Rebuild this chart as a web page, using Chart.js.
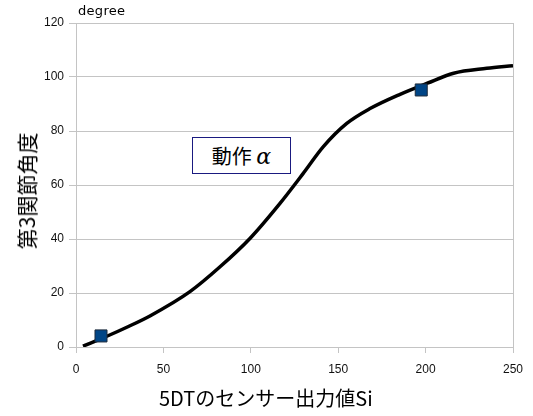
<!DOCTYPE html>
<html>
<head>
<meta charset="utf-8">
<script src="https://cdn.jsdelivr.net/npm/chart.js@4/dist/chart.umd.min.js"></script>
<style>
  html, body { margin: 0; padding: 0; background: #fff; }
  #wrap { position: relative; width: 533px; height: 416px; }
  canvas { position: absolute; left: 0; top: 0; }
  .lbl { position: absolute; white-space: nowrap; color: #000; }
  #degree { left: 78px; top: 3px; font: 13px "DejaVu Sans", sans-serif; letter-spacing: 0.3px; }
  #xtitle { left: 159px; top: 384px; font: 20px "Noto Sans CJK JP", sans-serif; line-height: 28px; }
  #ytitle { left: 26px; top: 191px; font: 21px "Noto Sans CJK JP", sans-serif; line-height: 28px;
            transform: translate(-50%, -50%) rotate(-90deg); }
  #box { left: 192px; top: 137px; width: 97px; height: 35px; border: 1.5px solid #1a1a80; background: #fff;
         font: 20px "Noto Sans CJK JP", sans-serif; line-height: 35px; text-align: center; }
  #box i { font-family: "DejaVu Serif", serif; font-size: 22px; }
</style>
</head>
<body>
<div id="wrap">
  <canvas id="c" width="533" height="416"></canvas>
  <div class="lbl" id="degree">degree</div>
  <div class="lbl" id="ytitle">第3関節角度</div>
  <div class="lbl" id="xtitle">5DTのセンサー出力値Si</div>
  <div class="lbl" id="box">動作 <i>α</i></div>
</div>
<script>
const curveX = [4, 17, 30, 42.3, 65.2, 82.4, 99.5, 116.7, 130, 141.5, 154.9, 168.2, 185.4, 201, 216, 235, 250];
const curveY = [0.3, 3.8, 7.6, 11.5, 20.5, 29.7, 40.2, 53.2, 64.3, 74.2, 82.8, 88.3, 93.6, 97.7, 101.4, 103.2, 104.2];
const markerX = [14.3, 197.5];
const markerY = [4.1, 95.2];
const xTicks = [0, 50, 100, 150, 200, 250];
const yTicks = [0, 20, 40, 60, 80, 100, 120];

const grid = '#c4c4c4';
new Chart(document.getElementById('c'), {
  type: 'scatter',
  data: {
    datasets: [
      {
        data: curveX.map((x, i) => ({ x, y: curveY[i] })),
        showLine: true,
        borderColor: '#000',
        borderWidth: 3.5,
        pointRadius: 0,
        cubicInterpolationMode: 'monotone',
        order: 2
      },
      {
        data: markerX.map((x, i) => ({ x, y: markerY[i] })),
        showLine: false,
        pointStyle: 'rect',
        pointRadius: 8.5,
        backgroundColor: '#004586',
        borderColor: '#1d2b3b',
        borderWidth: 1,
        order: 1
      }
    ]
  },
  options: {
    responsive: false,
    animation: false,
    events: [],
    layout: { padding: { top: 23, right: 20, left: 0, bottom: 0 } },
    plugins: { legend: { display: false }, tooltip: { enabled: false } },
    scales: {
      x: {
        type: 'linear', min: 0, max: 250,
        afterBuildTicks: s => { s.ticks = xTicks.map(v => ({ value: v })); },
        afterFit: s => { s.height = 69; },
        border: { display: false },
        grid: {
          color: c => (c.tick && c.tick.value === 250) ? grid : 'rgba(0,0,0,0)',
          tickColor: grid, tickLength: 6, lineWidth: 1
        },
        ticks: { color: '#111', font: { family: 'Liberation Sans', size: 12 }, padding: 9, maxRotation: 0 }
      },
      y: {
        type: 'linear', min: 0, max: 120,
        afterBuildTicks: s => { s.ticks = yTicks.map(v => ({ value: v })); },
        afterFit: s => { s.width = 76; },
        border: { display: true, color: grid, width: 1 },
        grid: { color: grid, tickColor: grid, tickLength: 7, lineWidth: 1 },
        ticks: { color: '#111', font: { family: 'Liberation Sans', size: 12 }, padding: 5 }
      }
    }
  }
});
</script>
</body>
</html>
